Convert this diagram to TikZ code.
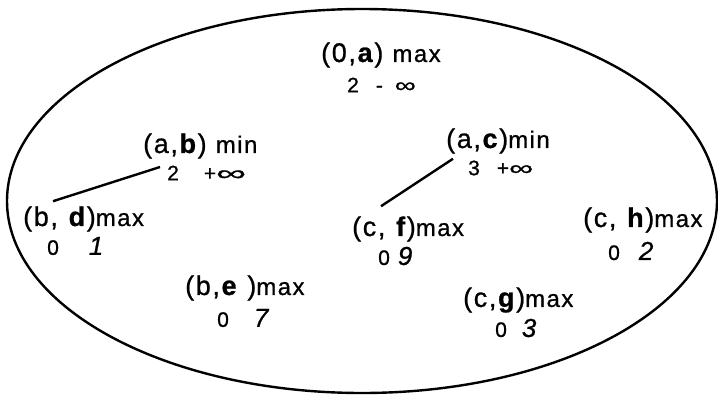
\documentclass[tikz,border=0pt]{standalone}
\usepackage{graphicx}
\usepackage{fontspec}
\setmainfont{Liberation Sans}[FakeBold=0.8]
\newfontfamily\pairfont[LetterSpace=6,FakeBold=0.8]{Liberation Sans}
\usepackage{tikz}
\newcommand{\labmax}{{\fontsize{24}{26}\selectfont max}}
\newcommand{\labmin}{{\fontsize{24}{26}\selectfont min}}
\newcommand{\winf}[1]{\scalebox{#1}[1]{∞}}
\newcommand{\leafval}[1]{{\fontsize{26}{28}\selectfont\itshape #1}}

\begin{document}
\begin{tikzpicture}[x=1pt, y=-1pt,
  pair/.style={anchor=west, inner sep=0pt, font=\pairfont\fontsize{27}{30}\selectfont},
  vals/.style={anchor=west, inner sep=0pt, font=\fontsize{21}{23}\selectfont},
  link/.style={line width=2.4pt}]
\useasboundingbox (0,0) rectangle (718,394);
\draw[line width=2.4pt] (362,201) ellipse [x radius=355pt, y radius=192pt];
\node[pair] (oa) at (321,55) {(0,\textbf{a}) \labmax};
\node[vals] (oav) at (347,85) {2\hspace{17pt}-\hspace{12pt}\winf{1.4}};
\node[pair] (ab) at (143,146) {(a,\textbf{b}) \labmin};
\node[vals] (abv) at (167,173) {2\hspace{25pt}+\winf{2.0}};
\node[pair] (ac) at (446,141) {(a,\textbf{c})\labmin};
\node[vals] (acv) at (468,168) {3\hspace{17pt}+\winf{1.6}};
\node[pair] (bd) at (23,219) {(b, \textbf{d})\labmax};
\node[vals] (bdv) at (47,246) {0\hspace{30pt}\leafval{1}};
\node[pair] (be) at (185,288) {(b,\textbf{e} )\labmax};
\node[vals] (bev) at (217,318) {0\hspace{25pt}\leafval{7}};
\node[pair] (cf) at (352,229) {(c, \textbf{f})\labmax};
\node[vals] (cfv) at (378,256) {0\hspace{8pt}\leafval{9}};
\node[pair] (cg) at (463,300) {(c,\textbf{g})\labmax};
\node[vals] (cgv) at (495,328) {0\hspace{15pt}\leafval{3}};
\node[pair] (ch) at (583,220) {(c, \textbf{h})\labmax};
\node[vals] (chv) at (608,251) {0\hspace{19pt}\leafval{2}};
\draw[link] ([shift={(-7,-6)}]abv.west) -- ([shift={(30,-5)}]bd.north west);
\draw[link] ([shift={(7,5)}]ac.south west) -- ([shift={(29,-10)}]cf.north west);
\end{tikzpicture}
\end{document}
